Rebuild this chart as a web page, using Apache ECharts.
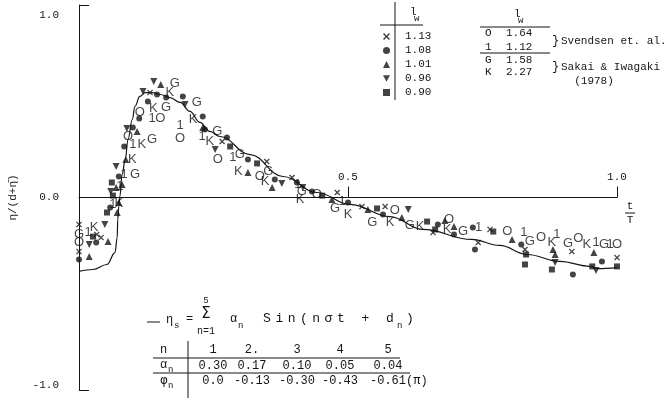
<!DOCTYPE html>
<html>
<head>
<meta charset="utf-8">
<title>eta / (d + eta)</title>
<script src="https://cdn.jsdelivr.net/npm/echarts@6/dist/echarts.min.js"></script>
<style>
html, body { margin: 0; padding: 0; background: #fff; }
#chart { width: 670px; height: 401px; }
</style>
</head>
<body>
<div id="chart"></div>
<script>
// axis ticks
const xTicks = [0.5, 1.0];
const yTicks = [-1.0, 0.0, 1.0];

// measured points, one list per l_w value
const lwNames = ['1.13', '1.08', '1.01', '0.96', '0.90'];
const crossPts = [[0.132,0.545],[0.266,0.291],[0.349,0.187],[0.396,0.104],[0.480,0.026],[0.526,-0.047],[0.569,-0.047],
  [0.658,-0.182],[0.764,-0.166],[0.742,-0.234],[0.829,-0.270],[0.916,-0.281],[1.000,-0.312],[0.000,-0.140],
  [0.033,-0.192],[0.041,-0.208],[0.000,-0.281]];
const circlePts = [[0.145,0.535],[0.162,0.519],[0.193,0.525],[0.128,0.499],[0.112,0.410],[0.230,0.421],[0.234,0.353],
  [0.275,0.312],[0.314,0.197],[0.100,0.364],[0.084,0.265],[0.074,0.109],[0.058,-0.052],[0.032,-0.234],[0.000,-0.322],
  [0.364,0.094],[0.405,0.078],[0.433,0.031],[0.500,-0.026],[0.565,-0.088],[0.667,-0.140],[0.697,-0.192],
  [0.732,-0.156],[0.736,-0.270],[0.822,-0.244],[0.918,-0.400],[0.972,-0.332]];
const triUpPts = [[0.152,0.587],[0.230,0.364],[0.108,0.343],[0.087,0.197],[0.069,0.052],[0.080,0.068],[0.071,-0.078],
  [0.074,-0.026],[0.054,-0.229],[0.019,-0.306],[0.314,0.130],[0.359,0.052],[0.470,-0.010],[0.537,-0.062],
  [0.600,-0.104],[0.680,-0.119],[0.697,-0.151],[0.805,-0.218],[0.881,-0.270],[0.885,-0.296],[0.957,-0.286]];
const triDownPts = [[0.139,0.603],[0.119,0.551],[0.197,0.483],[0.089,0.358],[0.253,0.249],[0.069,0.161],[0.059,0.031],
  [0.048,-0.140],[0.019,-0.244],[0.377,0.073],[0.416,0.052],[0.612,-0.062],[0.885,-0.338],[0.961,-0.379]];
const squarePts = [[0.281,0.265],[0.331,0.177],[0.452,0.010],[0.061,0.078],[0.063,0.010],[0.052,-0.078],[0.026,-0.203],
  [0.554,-0.057],[0.647,-0.125],[0.662,-0.166],[0.770,-0.177],[0.831,-0.296],[0.829,-0.348],[0.879,-0.374],
  [0.954,-0.358],[1.000,-0.358]];

// lettered points (other experiments)
const svO = [[0.113,0.442],[0.151,0.410],[0.188,0.306],[0.091,0.317],[0.258,0.197],[0.336,0.109],[0.442,0.016],
  [0.587,-0.068],[0.688,-0.114],[0.796,-0.177],[0.859,-0.208],[0.928,-0.213],[1.000,-0.244],[0.000,-0.234]];
const sv1 = [[0.136,0.410],[0.188,0.374],[0.229,0.317],[0.100,0.275],[0.286,0.208],[0.084,0.119],[0.076,0.057],
  [0.063,-0.036],[0.017,-0.182],[0.407,0.068],[0.489,-0.021],[0.743,-0.156],[0.827,-0.182],[0.888,-0.192],
  [0.961,-0.234],[0.987,-0.244]];
const sakG = [[0.178,0.592],[0.162,0.468],[0.219,0.494],[0.136,0.301],[0.257,0.343],[0.104,0.119],[0.299,0.223],
  [0.352,0.135],[0.414,0.031],[0.476,-0.057],[0.545,-0.130],[0.615,-0.145],[0.714,-0.177],[0.838,-0.229],
  [0.909,-0.239],[0.976,-0.244],[0.000,-0.192]];
const sakK = [[0.169,0.545],[0.138,0.462],[0.212,0.405],[0.117,0.275],[0.243,0.291],[0.099,0.197],[0.296,0.135],
  [0.074,-0.031],[0.028,-0.156],[0.346,0.083],[0.411,-0.010],[0.500,-0.088],[0.578,-0.130],[0.634,-0.151],
  [0.684,-0.166],[0.879,-0.234],[0.944,-0.244]];

// eta_s curve
const curvePts = [[0.000,-0.384],[0.026,-0.374],[0.052,-0.348],[0.067,-0.286],[0.071,-0.208],[0.072,-0.114],
  [0.074,-0.047],[0.076,0.005],[0.080,0.119],[0.086,0.197],[0.091,0.301],[0.099,0.405],[0.104,0.473],
  [0.113,0.525],[0.123,0.545],[0.136,0.545],[0.151,0.535],[0.169,0.519],[0.188,0.494],[0.206,0.447],
  [0.225,0.390],[0.243,0.343],[0.262,0.317],[0.318,0.223],[0.379,0.109],[0.442,0.026],[0.504,-0.036],
  [0.578,-0.099],[0.639,-0.166],[0.730,-0.218],[0.782,-0.249],[0.833,-0.296],[0.894,-0.332],[0.950,-0.358],
  [0.965,-0.369],[1.000,-0.364]];

// legend tables and harmonic coefficients
const svendsenRows = [['O', '1.64'], ['1', '1.12']];
const sakaiRows = [['G', '1.58'], ['K', '2.27']];
const nList = [1, 2, 3, 4, 5];
const anList = [0.30, 0.17, 0.10, 0.05, 0.04];
const dnList = [0.0, -0.13, -0.30, -0.43, -0.61];

const INK = '#151515';
const MONO = '"Liberation Mono", "DejaVu Sans Mono", monospace';
const crossPath = 'path://M0,1.5L1.5,0L5,3.5L8.5,0L10,1.5L6.5,5L10,8.5L8.5,10L5,6.5L1.5,10L0,8.5L3.5,5Z';
const downPath = 'path://M0,0L10,0L5,9Z';

var myChart = echarts.init(document.getElementById('chart'));

function markerSeries(name, data, symbol, size) {
    return {
        name: name,
        type: 'scatter',
        data: data,
        symbol: symbol,
        symbolSize: size,
        itemStyle: { color: INK },
        z: 3
    };
}

function letterSeries(letter, data) {
    return {
        name: letter,
        type: 'scatter',
        data: data,
        symbolSize: 1,
        itemStyle: { color: 'rgba(0,0,0,0)' },
        label: {
            show: true,
            position: 'inside',
            formatter: letter,
            fontFamily: '"Liberation Sans", Arial, sans-serif',
            fontSize: 13,
            color: INK
        },
        z: 4
    };
}

function txt(text, x, y, size, align, font) {
    return {
        type: 'text',
        style: {
            text: text, x: x, y: y,
            font: (size || 11) + 'px ' + (font || MONO),
            fill: INK,
            align: align || 'left',
            verticalAlign: 'middle'
        }
    };
}

function seg(x1, y1, x2, y2) {
    return { type: 'line', shape: { x1: x1, y1: y1, x2: x2, y2: y2 }, style: { stroke: INK, lineWidth: 1 } };
}

// decoration: tables, formula, x-axis name
var graphics = [];
// left legend frame (markers come from the legend component)
graphics.push(seg(395, 2, 395, 100), seg(380, 25, 423, 25));
graphics.push(txt('l', 410, 12, 11), txt('w', 414, 19, 9));
// right legend table
graphics.push(txt('l', 514, 14, 11), txt('w', 518, 21, 9));
graphics.push(seg(480, 27, 550, 27), seg(480, 53, 550, 53));
svendsenRows.forEach(function (r, i) {
    graphics.push(txt(r[0], 485, 33 + i * 14, 11), txt(r[1], 506, 33 + i * 14, 11));
});
sakaiRows.forEach(function (r, i) {
    graphics.push(txt(r[0], 485, 60 + i * 12, 11), txt(r[1], 506, 60 + i * 12, 11));
});
graphics.push(txt('}', 552, 41, 12), txt('Svendsen et. al.', 561, 41, 11));
graphics.push(txt('}', 552, 67, 12), txt('Sakai & Iwagaki', 561, 67, 11));
graphics.push(txt('(1978)', 594, 81, 11, 'center'));
// t/T
graphics.push(txt('t', 630, 206, 11, 'center'), seg(625, 213, 635, 213), txt('T', 630, 220, 11, 'center'));
// formula
graphics.push(seg(147, 322, 160, 322));
graphics.push(txt('η', 166, 320, 12), txt('s', 174, 326, 9), txt('=', 186, 319, 12));
graphics.push(txt('5', 206, 301, 9, 'center'), txt('Σ', 206, 314, 15, 'center', '"DejaVu Sans", sans-serif'),
    txt('n=1', 206, 331, 10, 'center'));
graphics.push(txt('α', 230, 319, 12), txt('n', 238, 326, 9));
'Sin(nσt + d'.split('').forEach(function (ch, i) {
    if (ch !== ' ') graphics.push(txt(ch, 267 + i * 12.3, 319, 13, 'center'));
});
graphics.push(txt('n', 397, 326, 9), txt(')', 410, 319, 13, 'center'));
// coefficient table
var colX = [213, 252, 297, 340, 388];
graphics.push(seg(188, 341, 188, 398), seg(153, 358, 400, 358), seg(153, 373, 410, 373));
graphics.push(txt('n', 160, 350, 12));
graphics.push(txt('α', 160, 365, 12), txt('n', 168, 370, 9));
graphics.push(txt('φ', 160, 381, 12, 'left', '"DejaVu Sans", sans-serif'), txt('n', 168, 386, 9));
nList.forEach(function (n, i) {
    graphics.push(txt(n === 2 ? n + '.' : String(n), colX[i], 350, 12, 'center'));
});
anList.forEach(function (a, i) {
    graphics.push(txt(a.toFixed(2), colX[i], 366, 12, 'center'));
});
dnList.forEach(function (d, i) {
    var s = i === 0 ? d.toFixed(1) : d.toFixed(2);
    if (i === dnList.length - 1) {
        graphics.push(txt(s + '(π)', colX[i] - 18, 381, 12, 'left'));
    } else {
        graphics.push(txt(s, colX[i], 381, 12, 'center'));
    }
});

var option = {
    animation: false,
    backgroundColor: '#fff',
    grid: { left: 79, right: 53, top: 5, bottom: 11, outerBoundsMode: 'none', containLabel: false },
    legend: {
        data: lwNames,
        orient: 'vertical',
        left: 378,
        top: 26,
        itemWidth: 7,
        itemHeight: 7,
        itemGap: 3,
        selectedMode: false,
        textStyle: { fontFamily: MONO, fontSize: 11, color: INK, padding: [0, 0, 0, 10] }
    },
    xAxis: {
        type: 'value',
        min: 0,
        max: 1,
        interval: 0.5,
        position: 'bottom',
        offset: -192.5,
        axisLine: { onZero: false, lineStyle: { color: INK, width: 1 } },
        axisTick: { show: true, inside: true, length: 11, lineStyle: { color: INK } },
        axisLabel: {
            inside: true,
            margin: 15,
            fontFamily: MONO,
            fontSize: 11,
            color: INK,
            formatter: function (v) { return xTicks.indexOf(v) >= 0 ? v.toFixed(1) : ''; }
        },
        splitLine: { show: false }
    },
    yAxis: {
        type: 'value',
        min: -1,
        max: 1,
        interval: 1,
        name: 'η/(d+η̄)',
        nameLocation: 'middle',
        nameRotate: 90,
        nameGap: 60,
        nameTextStyle: { fontFamily: MONO, fontSize: 11, color: INK },
        axisLine: { show: true, onZero: false, lineStyle: { color: INK, width: 1 } },
        axisTick: { show: true, inside: true, length: 10, lineStyle: { color: INK } },
        axisLabel: {
            margin: 20,
            fontFamily: MONO,
            fontSize: 11,
            color: INK,
            formatter: function (v) {
                if (yTicks.indexOf(v) < 0) return '';
                // the printed end labels sit a little inside the axis ends
                if (v === 1) return '{hi|' + v.toFixed(1) + '}';
                if (v === -1) return '{lo|' + v.toFixed(1) + '}';
                return v.toFixed(1);
            },
            rich: {
                hi: { fontFamily: MONO, fontSize: 11, color: INK, padding: [20, 0, 0, 0] },
                lo: { fontFamily: MONO, fontSize: 11, color: INK, padding: [0, 0, 10, 0] }
            }
        },
        splitLine: { show: false }
    },
    graphic: graphics,
    series: [
        {
            name: 'eta_s',
            type: 'line',
            data: curvePts,
            showSymbol: false,
            smooth: 0.4,
            smoothMonotone: 'x',
            lineStyle: { color: INK, width: 1.2 },
            z: 2
        },
        markerSeries(lwNames[0], crossPts, crossPath, 6),
        markerSeries(lwNames[1], circlePts, 'circle', 6),
        markerSeries(lwNames[2], triUpPts, 'triangle', 7),
        markerSeries(lwNames[3], triDownPts, downPath, 7),
        markerSeries(lwNames[4], squarePts, 'rect', 6),
        letterSeries('O', svO),
        letterSeries('1', sv1),
        letterSeries('G', sakG),
        letterSeries('K', sakK)
    ]
};

myChart.setOption(option);
window.addEventListener('resize', function () {
    myChart.resize();
});
</script>
</body>
</html>
